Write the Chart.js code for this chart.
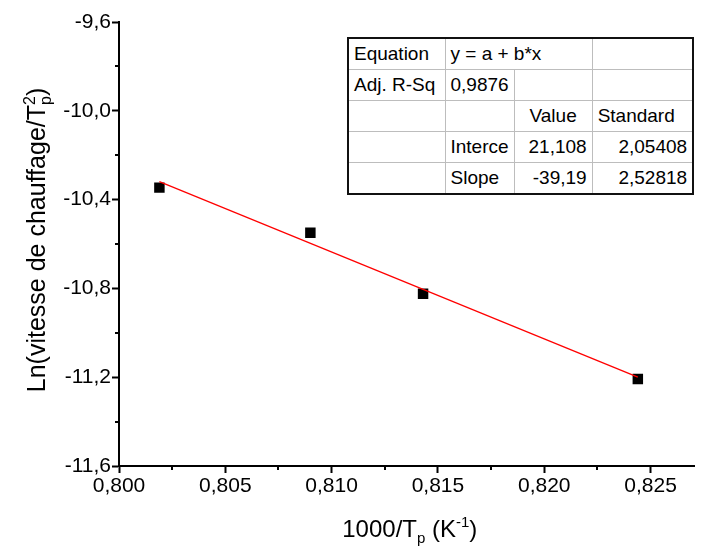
<!DOCTYPE html>
<html>
<head>
<meta charset="utf-8">
<script src="https://cdn.jsdelivr.net/npm/chart.js@4.4.1/dist/chart.umd.min.js"></script>
<style>
  body { margin: 0; background: #fff; }
  #wrap { position: relative; width: 702px; height: 555px; }
  #fit {
    position: absolute; left: 347px; top: 37px;
    border-collapse: collapse; border: 2px solid #111;
    font-family: "Liberation Sans", Arial, sans-serif; font-size: 19px; color: #000;
    background: #fff;
  }
  #fit td { border: 1px solid #bdbdbd; height: 30px; padding: 0 5px; white-space: nowrap; }
  #fit td.r { text-align: right; }
  #fit td.c { text-align: center; }
</style>
</head>
<body>
<div id="wrap">
  <canvas id="chart" width="702" height="555"></canvas>
  <table id="fit">
    <colgroup><col style="width:97px"><col style="width:69px"><col style="width:78px"><col style="width:101px"></colgroup>
    <tr><td>Equation</td><td colspan="2">y = a + b*x</td><td></td></tr>
    <tr><td>Adj. R-Sq</td><td>0,9876</td><td></td><td></td></tr>
    <tr><td></td><td></td><td class="c">Value</td><td>Standard</td></tr>
    <tr><td></td><td>Interce</td><td class="r">21,108</td><td class="r">2,05408</td></tr>
    <tr><td></td><td>Slope</td><td class="r">-39,19</td><td class="r">2,52818</td></tr>
  </table>
</div>
<script>
// measured points
const xValues = [0.8019, 0.8090, 0.8143, 0.8244];
const yValues = [-10.346, -10.549, -10.824, -11.208];

// linear fit ends (y = a + b*x)
const fitX = [0.8019, 0.8244];
const fitY = [-10.319, -11.200];

const xTicks = [0.800, 0.805, 0.810, 0.815, 0.820, 0.825];
const xTickLabels = ['0,800', '0,805', '0,810', '0,815', '0,820', '0,825'];
const yTicks = [-11.6, -11.2, -10.8, -10.4, -10.0, -9.6];
const yTickLabels = ['-11,6', '-11,2', '-10,8', '-10,4', '-10,0', '-9,6'];

const FONT = '"Liberation Sans", Arial, sans-serif';

function drawRich(ctx, segs, x, y, size) {
  const big = size + 'px ' + FONT, small = Math.round(size * 0.63) + 'px ' + FONT;
  let w = 0;
  segs.forEach(s => {
    if (s.stack) {
      ctx.font = small;
      s.w = Math.max(ctx.measureText(s.stack[0]).width, ctx.measureText(s.stack[1]).width);
    } else {
      ctx.font = s.sub || s.sup ? small : big;
      s.w = ctx.measureText(s.t).width;
    }
    w += s.w;
  });
  let cx = x - w / 2;
  ctx.textBaseline = 'alphabetic';
  ctx.textAlign = 'left';
  segs.forEach(s => {
    if (s.stack) {
      ctx.font = small;
      ctx.fillText(s.stack[0], cx, y - 10);
      ctx.fillText(s.stack[1], cx, y + 6);
    } else if (s.sub) {
      ctx.font = small;
      ctx.fillText(s.t, cx, y + 6);
    } else if (s.sup) {
      ctx.font = small;
      ctx.fillText(s.t, cx, y - 10);
    } else {
      ctx.font = big;
      ctx.fillText(s.t, cx, y);
    }
    cx += s.w;
  });
}

const axisExtras = {
  id: 'axisExtras',
  afterDraw(chart) {
    const ctx = chart.ctx;
    const xs = chart.scales.x, ys = chart.scales.y;
    ctx.save();
    ctx.strokeStyle = '#000';
    ctx.lineWidth = 2;
    // minor ticks halfway between majors
    for (let i = 0; i < xTicks.length; i++) {
      const m = xTicks[i] + 0.0025;
      if (m > xs.max) break;
      const px = Math.round(xs.getPixelForValue(m));
      ctx.beginPath(); ctx.moveTo(px, ys.bottom); ctx.lineTo(px, ys.bottom + 4); ctx.stroke();
    }
    for (let i = 0; i < yTicks.length - 1; i++) {
      const m = yTicks[i] + 0.2;
      const py = Math.round(ys.getPixelForValue(m));
      ctx.beginPath(); ctx.moveTo(xs.left, py); ctx.lineTo(xs.left - 4, py); ctx.stroke();
    }
    ctx.fillStyle = '#000';
    drawRich(ctx, [{ t: '1000/T' }, { t: 'p', sub: true }, { t: ' (K' }, { t: '-1', sup: true }, { t: ')' }],
      (xs.left + xs.right) / 2 + 3, 537, 24);
    ctx.translate(45, (ys.top + ys.bottom) / 2 - 4);
    ctx.rotate(-Math.PI / 2);
    drawRich(ctx, [{ t: 'Ln(vitesse de chauffage/T' }, { stack: ['2', 'p'] }, { t: ')' }], 0, 0, 25);
    ctx.restore();
  }
};

const tickFont = { family: FONT, size: 21 };

new Chart(document.getElementById('chart'), {
  type: 'scatter',
  data: {
    datasets: [
      {
        label: 'fit',
        data: fitX.map((x, i) => ({ x, y: fitY[i] })),
        showLine: true,
        borderColor: '#ff0000',
        borderWidth: 1.3,
        pointRadius: 0,
        fill: false
      },
      {
        label: 'data',
        data: xValues.map((x, i) => ({ x, y: yValues[i] })),
        pointStyle: 'rect',
        pointRadius: 7.4,
        backgroundColor: '#000',
        borderWidth: 0
      }
    ]
  },
  options: {
    responsive: false,
    animation: false,
    devicePixelRatio: 1,
    layout: { padding: { top: 22, right: 1, left: 0, bottom: 0 } },
    plugins: { legend: { display: false }, tooltip: { enabled: false } },
    scales: {
      x: {
        type: 'linear',
        position: 'bottom',
        min: 0.8,
        max: 0.82707,
        afterBuildTicks: s => { s.ticks = xTicks.map(v => ({ value: v })); },
        afterFit: s => { s.height = 89; },
        ticks: { callback: (v, i) => xTickLabels[i], font: tickFont, color: '#000', padding: 1, maxRotation: 0, autoSkip: false },
        grid: { display: true, drawOnChartArea: false, drawTicks: true, tickLength: 7, tickWidth: 2, tickColor: '#000' },
        border: { display: true, color: '#000', width: 2 }
      },
      y: {
        type: 'linear',
        min: -11.6,
        max: -9.6,
        afterBuildTicks: s => { s.ticks = yTicks.map(v => ({ value: v })); },
        afterFit: s => { s.width = 119; },
        ticks: { callback: (v, i) => yTickLabels[i], font: tickFont, color: '#000', padding: 1, autoSkip: false },
        grid: { display: true, drawOnChartArea: false, drawTicks: true, tickLength: 7, tickWidth: 2, tickColor: '#000' },
        border: { display: true, color: '#000', width: 2 }
      }
    }
  },
  plugins: [axisExtras]
});
</script>
</body>
</html>
